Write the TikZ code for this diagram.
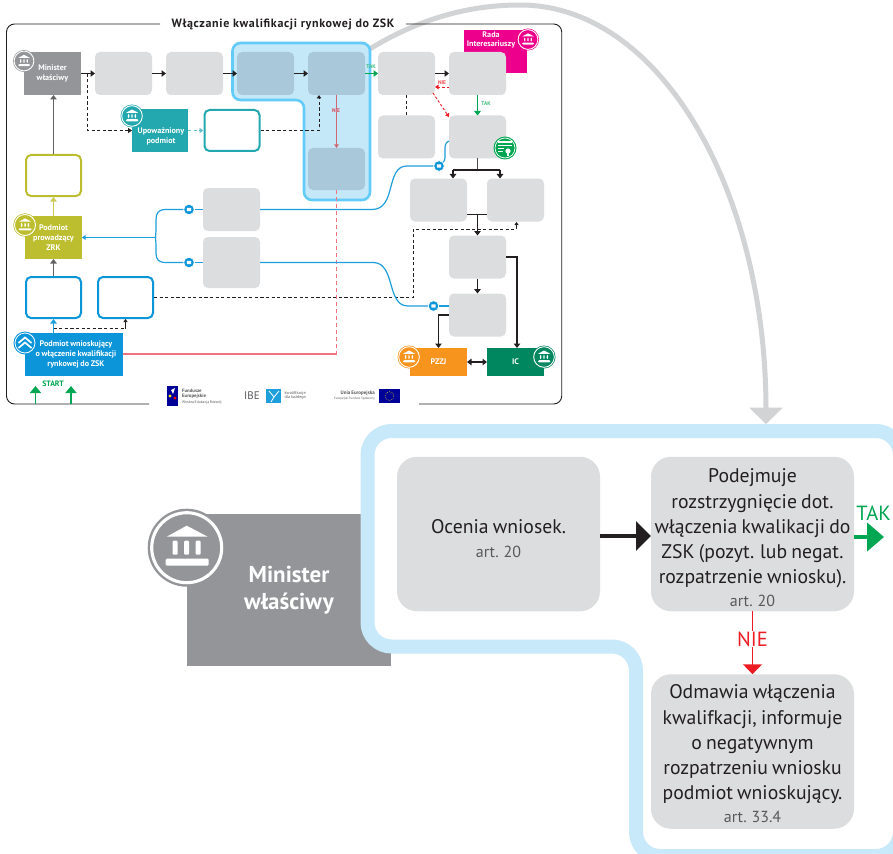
\documentclass[tikz,border=0pt]{standalone}
\usepackage{fontspec}
\setmainfont[WordSpace=0.8]{PT Sans}
\newfontfamily\titlefont[LetterSpace=5.5]{PT Sans}
\usetikzlibrary{arrows.meta,calc}
\definecolor{cGray}{HTML}{939598}
\definecolor{cBox}{HTML}{DCDDDE}
\definecolor{cDark}{HTML}{231F20}
\definecolor{cInk}{HTML}{58595B}
\definecolor{cHiF}{HTML}{C5E8F9}
\definecolor{cHiS}{HTML}{62CBF7}
\definecolor{cHiB}{HTML}{A9C8DA}
\definecolor{cBand}{HTML}{C7E9F9}
\definecolor{cBlue}{HTML}{0C95D9}
\definecolor{cLine}{HTML}{1E9FDC}
\definecolor{cOlive}{HTML}{BDBE2F}
\definecolor{cTeal}{HTML}{22A8AE}
\definecolor{cMag}{HTML}{EC008C}
\definecolor{cOr}{HTML}{F7941D}
\definecolor{cIC}{HTML}{00875F}
\definecolor{cGreen}{HTML}{00A651}
\definecolor{cRed}{HTML}{ED1C24}
\definecolor{cPink}{HTML}{F0737F}
\definecolor{cArc}{HTML}{D1D3D4}
\tikzset{
  box/.style={rectangle,rounded corners=5pt,fill=cBox,minimum width=57pt,minimum height=43pt,inner sep=0pt,outer sep=0pt},
  hibox/.style={box,fill=cHiB},
  obox/.style={rectangle,rounded corners=5pt,fill=white,draw=#1,line width=2pt,minimum width=55pt,minimum height=41pt,inner sep=0pt,outer sep=1pt},
  actor/.style={rectangle,fill=#1,inner sep=0pt,outer sep=0pt,text=white,font=\bfseries\fontsize{8.1}{9.9}\selectfont,align=center},
  bigbox/.style={rectangle,rounded corners=20pt,fill=cBox,minimum width=203pt,minimum height=154.5pt,inner sep=0pt,outer sep=0pt},
  bigtext/.style={inner sep=0pt,text=cDark,align=center,font=\fontsize{19.7}{25.2}\selectfont},
  flow/.style={draw=cDark,line width=1.1pt,-{Triangle[length=4.5pt,width=6.5pt]}},
  plain/.style={draw=cDark,line width=1.1pt},
  dashln/.style={draw=cDark,line width=0.9pt,dash pattern=on 3.2pt off 2.4pt},
  blueline/.style={draw=cLine,line width=1.2pt},
  small/.style={font=\bfseries\fontsize{5.4}{5.8}\selectfont,inner sep=0pt},
  logo/.style={inner sep=0pt,text=cInk,align=left,font=\fontsize{3.8}{4.4}\selectfont},
  badge/.style={circle,fill=cBlue,draw=white,line width=0.6pt,minimum size=10.5pt,inner sep=0pt},
}
\newcommand{\bank}[4]{%
  \begin{scope}[shift={(#1,#2)},scale=#3/39]
    \fill[#4] (0,0) circle[radius=39];
    \draw[white,line width=#3*0.08pt] (0,0) circle[radius=35];
    \fill[white] (0,-22) -- (21,-11) -- (-20,-11) -- cycle;
    \fill[white,rounded corners=1pt] (-14,-7) rectangle (-9,7);
    \fill[white,rounded corners=1pt] (-2.5,-7) rectangle (2.5,7);
    \fill[white,rounded corners=1pt] (9,-7) rectangle (14,7);
    \fill[white,rounded corners=1.2pt] (-21,11) rectangle (22,18);
  \end{scope}}
\newcommand{\mailmark}[2]{\fill[white,rounded corners=0.4pt] (#1-2.2,#2-1.6) rectangle (#1+2.2,#2+1.6);}
\begin{document}
\begin{tikzpicture}[x=1pt,y=-1pt]
\useasboundingbox (0,0) rectangle (893,853);
\fill[white] (0,0) rectangle (893,853);
% big grey arc
\coordinate (arcS) at (368,50);
\coordinate (arcE) at (766,424);
\draw[draw=cArc,line width=5pt] (arcS) .. controls (420,18) and (470,5) .. (520,5) .. controls (660,5) and (766,190) .. (766,410);
\fill[cArc] (749,407.5) -- (783,407.5) -- (arcE) -- cycle;
% frame
\draw[cDark,line width=0.9pt,rounded corners=8pt] (160,24) -- (6.5,24) -- (6.5,404) -- (149,404);
\draw[cDark,line width=0.9pt,rounded corners=8pt] (406,24) -- (561.7,24) -- (561.7,404) -- (419,404);
\node[inner sep=0pt,text=cDark,font=\titlefont\bfseries\fontsize{12}{12}\selectfont] (title) at (283,24) {Włączanie kwalifikacji rynkowej do ZSK};
% highlight
\draw[fill=cHiF,draw=cHiS,line width=2.6pt,rounded corners=8pt] (232.5,43) -- (370,43) -- (370,200) -- (304,200) -- (304,100) -- (232.5,100) -- cycle;
% nodes
\node[actor=cGray,minimum width=57pt,minimum height=43pt] (min) at (52.5,73.5) {Minister\\właściwy};
\node[box] (g1) at (123.5,73.5) {};
\node[box] (g2) at (194.5,73.5) {};
\node[hibox] (h1) at (265.5,73.5) {};
\node[hibox] (h2) at (336.5,73.5) {};
\node[hibox,minimum height=42pt] (h3) at (336.5,169) {};
\node[actor=cMag,minimum width=63pt,minimum height=43pt] (rada) at (495.5,51.5) {};
\node[inner sep=0pt,text=white,align=center,font=\bfseries\fontsize{8.1}{8.6}\selectfont] (radaT) at (491,40) {Rada\\Interesariuszy};
\node[box] (g3) at (406.5,73.5) {};
\node[box] (g4) at (477.5,73.5) {};
\node[box] (g5) at (406.5,137) {};
\node[box] (g6) at (477.5,137) {};
\node[box] (g7) at (438.5,200) {};
\node[box] (g8) at (515.5,200) {};
\node[box] (g9) at (477.5,257) {};
\node[box] (g10) at (477.5,315) {};
\node[box] (gA) at (231.5,209.5) {};
\node[box,minimum height=51pt] (gB) at (231.5,262.5) {};
\node[actor=cTeal,minimum width=56pt,minimum height=43pt] (upo) at (160,130.5) {};
\node[inner sep=0pt,text=white,align=center,font=\bfseries\fontsize{8.1}{9.9}\selectfont] (upoT) at (161,136) {Upoważniony\\podmiot};
\node[obox=cTeal] (upoB) at (232,130.5) {};
\node[obox=cOlive] (ol) at (53.5,175.5) {};
\node[actor=cOlive,minimum width=57pt,minimum height=43pt] (prz) at (53.5,237.5) {Podmiot\\prowadzący\\ZRK};
\node[obox=cBlue] (b1) at (53.5,297.5) {};
\node[obox=cBlue] (b2) at (125.5,297.5) {};
\node[actor=cBlue,minimum width=98pt,minimum height=43pt] (wn) at (74,354.5) {\hspace*{4pt}Podmiot wnioskujący\\\hspace*{4pt}o włączenie kwalifikacji\\\hspace*{4pt}rynkowej do ZSK};
\node[actor=cOr,minimum width=57pt,minimum height=28pt] (pz) at (438.5,362) {PZZJ};
\node[actor=cIC,minimum width=57pt,minimum height=28pt] (ic) at (515.5,362) {IC};
% black flows
\draw[flow] (min.east) -- (g1.west);
\draw[flow] (g1.east) -- (g2.west);
\draw[flow] (g2.east) -- (h1.west);
\draw[flow] (h1.east) -- (h2.west);
\draw[flow] (g3.east) -- (g4.west);
\draw[flow,draw=cDark!70] (ol.north) -- (min.south -| ol.north);
\draw[flow,draw=cOlive!80] (prz.north) -- (ol.south);
\draw[flow,draw=cDark!70] (b1.north) -- (prz.south);
\draw[flow,draw=cLine] (wn.north -| b1.south) -- (b1.south);
% dashed from minister
\coordinate (d1) at (87,73.5);
\draw[dashln,-{Triangle[length=4pt,width=5pt]}] (d1) |- (upo.west);
\draw[dashln,draw=cTeal!70,-{Triangle[length=4pt,width=5pt]}] (upo.east) -- (upoB.west);
\coordinate (d2) at (319,95);
\draw[dashln,-{Triangle[length=3.5pt,width=4.5pt]}] (upoB.east) -| (d2);
% NIE on highlight
\coordinate (r1) at (336.5,354);
\draw[draw=cRed!55!cHiB,line width=0.9pt,-{Triangle[length=3.5pt,width=4.5pt]}] (h2.south) -- (h3.north);
\node[fill=cHiF,inner sep=0.6pt,text=cRed!75!cHiB,small] (nie1) at (336,110.5) {NIE};
\draw[cPink,line width=1.2pt,dash pattern=on 4pt off 3pt] (h3.south) -- (r1);
\draw[cPink,line width=1.2pt] (wn.east |- r1) -- (r1);
% TAK
\draw[draw=cGreen,line width=1.1pt,-{Triangle[length=4.5pt,width=6.5pt]}] (h2.east) -- (g3.west);
\node[small,text=cGreen!75!white] (tak1) at (371,66.5) {TAK};
\draw[dashln] (g3.south) -- (g5.north);
\draw[draw=cRed,line width=0.9pt,dash pattern=on 2.5pt off 2pt,-{Triangle[length=3.5pt,width=4.5pt]}] (449,87) -- (435,87);
\coordinate (r2) at (433,93);
\coordinate (r3) at (449,117);
\draw[draw=cRed,line width=0.9pt,dash pattern=on 2.5pt off 2pt,-{Triangle[length=3.5pt,width=4.5pt]}] (r2) -- (r3);
\node[small,text=cRed!80!white] (nie2) at (442,83) {NIE};
\draw[draw=cGreen,line width=1.1pt,-{Triangle[length=4.5pt,width=6.5pt]}] (g4.south) -- (g6.north);
\node[small,text=cGreen!75!white] (tak2) at (486,104) {TAK};
% tree
\coordinate (t1) at (477.5,170);
\coordinate (t2) at (453,170);
\coordinate (t3) at (500,170);
\draw[draw=cDark!80,line width=1.4pt] (g6.south) -- (t1);
\draw[plain] (t2) -- (t3);
\draw[flow] (t2) -- (g7.north -| t2);
\draw[flow] (t3) -- (g8.north -| t3);
\coordinate (t4) at (477.5,214.5);
\draw[plain] (g7.east |- t4) -- (g8.west |- t4);
\draw[flow,line width=1.3pt] (t4) -- (g9.north);
\draw[flow] (g9.south) -- (g10.north);
\coordinate (t5) at (517,257);
\draw[flow] (g9.east) -- (t5) -- (t5 |- ic.north);
\coordinate (t6) at (438.5,315);
\draw[flow] (g10.west) -- (t6) -- (pz.north);
\draw[plain,{Triangle[length=4.5pt,width=6.5pt]}-{Triangle[length=4.5pt,width=6.5pt]}] (pz.east) -- (ic.west);
% dashed to g8
\coordinate (e1) at (413,297.5);
\coordinate (e2) at (413,229);
\coordinate (e3) at (516.5,229);
\coordinate (e4) at (516.5,222);
\draw[dashln] (b2.east) -- (e1) -- (e2) -- (e3);
\draw[draw=cDark,line width=0.9pt,-{Triangle[length=3pt,width=4pt]}] (e3) -- (e4);
% dashed b1->b2
\coordinate (e5) at (53.5,328.5);
\coordinate (e6) at (125.5,328.5);
\draw[dashln] (e5) -- (e6);
\draw[draw=cDark,line width=0.9pt,-{Triangle[length=3pt,width=4pt]}] (e6) -- (b2.south);
% blue curves
\node[badge] (mb1) at (439,166) {};
\node[badge] (mb2) at (189,209.5) {};
\node[badge] (mb3) at (189,262.5) {};
\node[badge] (mb4) at (433.5,306) {};
\coordinate (c1) at (449,141);
\coordinate (c2) at (449,306);
\coordinate (j1) at (156,237.5);
\draw[blueline] (c1) .. controls (441,144) and (448,158) .. (mb1);
\draw[blueline] (mb1) -- (407,166) .. controls (385,166) and (397,209.5) .. (372,209.5) -- (gA.east);
\draw[blueline] (gB.east) -- (373,262.5) .. controls (396,262.5) and (386,306) .. (408,306) -- (mb4);
\draw[blueline] (mb4) -- (c2);
\draw[blueline] (gA.west) -- (mb2);
\draw[blueline] (gB.west) -- (mb3);
\draw[blueline] (mb2) -- (166,209.5) .. controls (158,209.5) and (156,213) .. (156,220) -- (156,230) .. controls (156,234) and (155,237.5) .. (j1);
\draw[blueline] (mb3) -- (166,262.5) .. controls (158,262.5) and (156,259) .. (156,253) -- (156,245) .. controls (156,241) and (155,237.5) .. (j1);
\draw[blueline,-{Triangle[length=3.5pt,width=4.5pt]}] (j1) -- (prz.east);
\mailmark{439}{166}\mailmark{189}{209.5}\mailmark{189}{262.5}\mailmark{433.5}{306}
% small icons
\bank{24}{61}{11}{cGray}
\bank{132}{116}{11.5}{cTeal}
\bank{25}{225}{11.7}{cOlive}
\bank{528}{39.5}{11}{cMag}
\bank{409}{357}{11.5}{cOr}
\bank{544}{357}{11.5}{cIC}
% home icon
\fill[cBlue] (25,343) circle[radius=11.5];
\draw[white,line width=0.8pt] (25,343) circle[radius=10];
\draw[white,line width=1.7pt] (18.5,343) -- (25,337.5) -- (31.5,343);
\draw[white,line width=1.7pt] (18.5,348) -- (25,342.5) -- (31.5,348);
% register icon
\fill[cGreen] (505,148) circle[radius=11.5];
\draw[white,line width=0.7pt] (505,148) circle[radius=10];
\fill[white] (498,141) rectangle (512,143.5);
\fill[white] (498,145) rectangle (512,146.5);
\fill[white] (498,148) rectangle (504,149.5);
\fill[white] (498,151) rectangle (503,152.5);
\fill[white] (508,151) circle[radius=2.6];
\fill[white] (507,152) rectangle (509,156);
% start
\coordinate (s1) at (35.5,404);
\coordinate (s1e) at (35.5,386);
\coordinate (s2) at (71,404);
\coordinate (s2e) at (71,386);
\draw[draw=cGreen,line width=1.8pt,-{Triangle[length=7pt,width=11pt]}] (s1) -- (s1e);
\draw[draw=cGreen,line width=1.8pt,-{Triangle[length=7pt,width=11pt]}] (s2) -- (s2e);
\node[inner sep=0pt,text=cGreen,font=\bfseries\fontsize{7.8}{8}\selectfont] (start) at (53,384) {START};
% logos
\fill[blue!60!black] (167,386) -- (178,386) -- (178,406) -- (167,406) -- cycle;
\fill[white] (171,390) -- (175,388) -- (173,394) -- cycle;
\fill[yellow] (170,396) circle[radius=1.7];
\fill[red] (175,398) circle[radius=1.7];
\node[logo,anchor=west,font=\bfseries\fontsize{4.8}{5.4}\selectfont] (fe) at (182,394) {Fundusze\\Europejskie};
\node[logo,anchor=west] (fe2) at (182,402.5) {Wiedza Edukacja Rozwój};
\node[logo,anchor=west,font=\fontsize{11}{11}\selectfont] (ibe) at (244,395.5) {IBE};
\fill[cLine] (266,389) rectangle (281,403);
\draw[white,line width=0.8pt] (269,391) -- (274,397) -- (279,391) (274,397) -- (271,402);
\node[logo,anchor=west,font=\fontsize{4.2}{4.9}\selectfont] (kw) at (284.5,395.5) {kwalifikacje\\dla każdego};
\node[logo,anchor=east,font=\bfseries\fontsize{5}{5}\selectfont] (ue) at (375,393) {Unia Europejska};
\node[logo,anchor=east,font=\fontsize{3.2}{3}\selectfont] (ue2) at (375,398.5) {Europejski Fundusz Społeczny};
\fill[blue!60!black] (379,389) rectangle (400,403);
\draw[yellow!80!black,line width=0.5pt,dash pattern=on 0.8pt off 1.2pt] (389.5,396) circle[radius=4.5];
% lower part
\node[actor=cGray,minimum width=204pt,minimum height=152pt] (MIN) at (289,590) {};
\draw[fill=white,draw=cBand,line width=14pt,rounded corners=24pt] (367.5,431) -- (900,431) -- (900,856) -- (636,856) -- (636,646.5) -- (367.5,646.5) -- cycle;
\node[inner sep=0pt,text=white,align=center,font=\bfseries\fontsize{23}{27}\selectfont] (MINt) at (289,590) {Minister\\właściwy};
\bank{186.7}{547.7}{39}{cGray}
\node[bigbox] (B1) at (498.5,534) {};
\node[bigbox] (B2) at (752.5,534) {};
\node[bigbox] (B3) at (752.5,751.5) {};
\node[bigtext] (T1) at (498.5,538.5) {Ocenia wniosek.\\[-2pt]{\fontsize{16}{20}\selectfont\color{cInk}art. 20}};
\node[bigtext] (T2) at (752.5,538) {Podejmuje\\rozstrzygnięcie dot.\\włączenia kwalikacji do\\ZSK (pozyt. lub negat.\\rozpatrzenie wniosku).\\[-2pt]{\fontsize{16}{20}\selectfont\color{cInk}art. 20}};
\node[bigtext] (T3) at (752.5,754) {Odmawia włączenia\\kwalifkacji, informuje\\o negatywnym\\rozpatrzeniu wniosku\\podmiot wnioskujący.\\[-2pt]{\fontsize{16}{20}\selectfont\color{cInk}art. 33.4}};
\coordinate (a1) at (600,536);
\draw[draw=cDark,line width=4.5pt,-{Triangle[length=15pt,width=29pt]}] (a1) -- (B2.west |- a1);
\coordinate (tE) at (884,537);
\draw[draw=cGreen,line width=4.5pt,-{Triangle[length=17pt,width=28pt]}] (B2.east |- tE) -- (tE);
\node[inner sep=0pt,text=cGreen,font=\fontsize{20.5}{20}\selectfont] (TAK) at (873.5,513) {TAK};
\node[inner sep=0pt,text=cRed,font=\fontsize{20.5}{20}\selectfont] (NIE) at (752.5,639) {NIE};
\draw[draw=cRed,line width=1.5pt] (B2.south) -- (NIE.north);
\draw[draw=cRed,line width=1.5pt,-{Triangle[length=10pt,width=19pt]}] (NIE.south) -- (B3.north);
\end{tikzpicture}
\end{document}
